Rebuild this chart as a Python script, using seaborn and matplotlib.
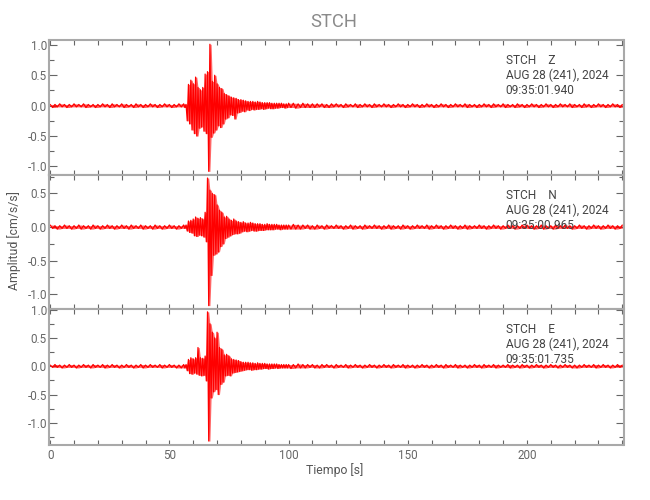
import numpy as np
import pandas as pd
import matplotlib
matplotlib.use("Agg")
import matplotlib.pyplot as plt
import seaborn as sns
from matplotlib import font_manager as fm
from matplotlib.ticker import MultipleLocator, FormatStrFormatter

# ---------------- data ----------------
station = "STCH"
components = ["Z", "N", "E"]
date_label = "AUG 28 (241), 2024"
start_times = ["09:35:01.940", "09:35:00.965", "09:35:01.735"]
x_label = "Tiempo [s]"
y_label = "Amplitud [cm/s/s]"
x_ticks = [0, 50, 100, 150, 200]

# sampling of the traced peaks (s)
pre_t = np.arange(0, 56, 1.0)       # quiet, before the event
event_t = np.arange(56, 100, 0.5)   # event window
post_t = np.arange(100, 241, 1.0)   # quiet coda / noise

# signed peak amplitudes, in hundredths of cm/s/s
z_pre = [2,-3,2,-2,3,-2,2,-3,2,-2, 3,-2,2,-2,3,-3,2,-2,2,-3, 2,-2,3,-2,2,-3,3,-2,2,-2,
         3,-3,2,-2,2,-3,3,-2,2,-3, 2,-2,3,-2,2,-3,2,-2,3,-2, 2,-3,2,-2,3,-2]
z_event = [3,-3,2,-25,
           35,-30,42,-40,36,-46,47,-50,
           30,-37,26,-35,30,-42,52,-46,
           56,-108,101,-52,40,-45,50,-40,
           36,-33,30,-36,28,-30,20,-22,
           18,-20,16,-15,14,-16,13,-22,
           12,-12,10,-11,10,-9,9,-10,
           8,-7,7,-8,7,-6,7,-7,
           6,-6,7,-6,6,-5,5,-6,
           5,-5,5,-4,5,-5,4,-5,
           4,-4,4,-4,4,-3,4,-3,
           3,-4,3,-3]
z_post = [4,-3,4,-4,3,-3,4,-3,3,-3, 3,-3,3,-2,3,-3,2,-3,3,-2, 3,-2,2,-3,3,-2,2,-2,3,-3,
          2,-2,3,-2,2,-3,3,-2,2,-2, 3,-2,2,-3,2,-2,3,-2,2,-3, 2,-2,3,-2,2,-3,2,-2,3,-2,
          2,-3,2,-2,3,-2,2,-3,2,-2, 3,-2,2,-2,3,-3,2,-2,2,-3, 2,-2,3,-2,2,-3,3,-2,2,-2,
          3,-3,2,-2,2,-3,3,-2,2,-3, 2,-2,3,-2,2,-3,2,-2,3,-2, 2,-3,2,-2,3,-2,2,-2,3,-3,
          2,-2,2,-3,3,-2,2,-3,2,-2, 3,-2,2,-3,2,-2,3,-2,2,-3, 2]

n_pre = [3,-2,2,-3,2,-2,3,-2,2,-3, 2,-2,3,-3,2,-2,2,-3,3,-2, 2,-3,2,-2,3,-2,2,-3,2,-2,
         3,-2,2,-3,3,-2,2,-2,3,-3, 2,-2,2,-3,3,-2,2,-3,2,-2, 3,-2,2,-3,2,-2]
n_event = [3,-2,3,-6,
           9,-8,10,-9,12,-13,15,-14,
           13,-12,14,-13,12,-15,22,-22,
           73,-117,55,-72,50,-42,48,-40,
           33,-37,25,-29,22,-25,15,-17,
           16,-15,12,-13,10,-11,12,-10,
           9,-10,8,-9,7,-7,8,-6,
           6,-7,6,-6,7,-5,6,-6,
           5,-6,5,-5,5,-5,4,-5,
           4,-4,5,-4,4,-4,4,-4,
           4,-3,4,-3,3,-4,3,-3,
           3,-3,3,-3]
n_post = [3,-3,4,-3,3,-3,3,-2,3,-3, 2,-3,3,-2,2,-3,3,-2,2,-2, 3,-2,2,-3,2,-2,3,-3,2,-2,
          2,-3,3,-2,2,-2,3,-2,2,-3, 2,-2,3,-3,2,-2,2,-3,3,-2, 2,-3,2,-2,3,-2,2,-2,3,-3,
          2,-2,3,-2,2,-3,2,-2,3,-2, 2,-3,2,-2,3,-3,2,-2,2,-2, 3,-2,2,-3,2,-2,3,-2,2,-3,
          2,-2,3,-2,2,-3,2,-2,3,-2, 3,-2,2,-3,2,-2,3,-3,2,-2, 2,-3,3,-2,2,-2,3,-2,2,-3,
          2,-2,3,-2,2,-3,2,-2,3,-2, 2,-3,2,-2,3,-2,2,-3,2,-2, 3]

e_pre = [2,-2,3,-2,2,-3,2,-2,3,-2, 2,-3,2,-2,3,-2,2,-3,3,-2, 2,-2,3,-3,2,-2,3,-2,2,-3,
         2,-2,3,-2,2,-3,2,-2,3,-3, 2,-2,3,-2,2,-2,3,-3,2,-2, 3,-2,2,-3,2,-3]
e_event = [3,-3,3,-8,
           12,-13,15,-14,13,-12,15,-14,
           33,-16,15,-17,14,-16,18,-26,
           96,-132,75,-56,60,-45,50,-41,
           60,-50,33,-32,30,-28,20,-17,
           21,-16,18,-17,13,-12,12,-11,
           11,-10,10,-9,8,-8,7,-7,
           7,-6,7,-6,6,-7,6,-6,
           5,-6,6,-5,5,-5,5,-4,
           5,-4,4,-5,4,-4,4,-4,
           4,-3,4,-4,3,-3,3,-3,
           3,-3,3,-3]
e_post = [3,-4,3,-3,4,-3,3,-3,3,-2, 3,-3,2,-3,3,-2,3,-2,2,-3, 3,-2,2,-2,3,-3,2,-2,3,-2,
          2,-3,2,-2,3,-2,2,-3,2,-2, 3,-2,2,-3,3,-2,2,-2,3,-3, 2,-2,2,-3,2,-2,3,-2,2,-3,
          2,-2,3,-2,2,-3,3,-2,2,-2, 3,-3,2,-2,2,-3,2,-2,3,-2, 2,-3,3,-2,2,-2,3,-3,2,-2,
          2,-2,3,-3,2,-2,2,-3,3,-2, 2,-3,2,-2,3,-2,2,-3,2,-2, 3,-2,2,-3,2,-2,3,-2,2,-3,
          2,-3,2,-2,3,-2,2,-2,3,-3, 2,-2,3,-2,2,-3,2,-2,3,-2, 2]

traces = {"Z": (z_pre, z_event, z_post),
          "N": (n_pre, n_event, n_post),
          "E": (e_pre, e_event, e_post)}
y_limits = {"Z": (-1.14, 1.08), "N": (-1.22, 0.775), "E": (-1.39, 1.01)}

# ---------------- style ----------------
sns.set_style("white")

# pick a narrow face if one is installed
names = {f.name for f in fm.fontManager.ttflist}
if "Liberation Sans Narrow" in names:
    FAMILY, SCALE = ["Liberation Sans Narrow", "DejaVu Sans"], 1.0
else:
    FAMILY, SCALE = ["Roboto", "DejaVu Sans"], 0.88
plt.rcParams["font.family"] = FAMILY
plt.rcParams["axes.unicode_minus"] = True

RED = "#ff0000"
SPINE = "#a9a9a9"
TICK = "#666666"
TXT = "#444444"

fig = plt.figure(figsize=(6.5, 5), dpi=100)
left, width = 49 / 650, (623.5 - 49) / 650
rects = [(left, 1 - 175 / 500, width, 135 / 500),
         (left, 1 - 309 / 500, width, 134 / 500),
         (left, 1 - 445 / 500, width, 136 / 500)]

t_all = np.concatenate([pre_t, event_t, post_t])

for i, (comp, rect, t0) in enumerate(zip(components, rects, start_times)):
    ax = fig.add_axes(rect)
    pre, ev, post = traces[comp]
    amp = np.concatenate([pre, ev, post]) / 100.0
    df = pd.DataFrame({"t": t_all, "amp": amp})
    # range covered by each wiggle, so the dense oscillation reads as a band
    roll = df["amp"].rolling(2, min_periods=1)
    ax.fill_between(df["t"], roll.min(), roll.max(), color=RED, alpha=0.6,
                    linewidth=0)
    sns.lineplot(data=df, x="t", y="amp", ax=ax, color=RED,
                 linewidth=0.9, estimator=None, sort=False)
    ax.set_xlim(-0.5, 240.5)
    ax.set_ylim(*y_limits[comp])
    ax.set_xlabel("")
    ax.set_ylabel("")

    for s in ax.spines.values():
        s.set_visible(True)
        s.set_color(SPINE)
        s.set_linewidth(1.5)

    ax.xaxis.set_major_locator(MultipleLocator(50))
    ax.xaxis.set_minor_locator(MultipleLocator(10))
    ax.yaxis.set_major_locator(MultipleLocator(0.5))
    ax.yaxis.set_minor_locator(MultipleLocator(0.25))
    ax.yaxis.set_major_formatter(FormatStrFormatter("%.1f"))

    ax.tick_params(axis="both", which="both", direction="in", top=True,
                   right=True, bottom=True, left=True, colors=TICK,
                   width=0.8)
    ax.tick_params(axis="x", which="both", length=3.8)
    ax.tick_params(axis="y", which="major", length=6)
    ax.tick_params(axis="y", which="minor", length=3.5)
    ax.tick_params(axis="y", which="major", labelsize=9.5 * SCALE, pad=1.5,
                   labelcolor=TICK)
    if i < 2:
        ax.tick_params(axis="x", labelbottom=False)
    else:
        ax.set_xticks(x_ticks)
        ax.tick_params(axis="x", which="major", labelsize=9.5 * SCALE, pad=3,
                       labelcolor=TICK)

    lines = [f"{station}    {comp}", date_label, t0]
    for k, txt in enumerate(lines):
        ax.annotate(txt, xy=(0.795, 1.0), xycoords="axes fraction",
                    xytext=(0, -15.1 - 10.5 * k), textcoords="offset points",
                    ha="left", va="center", fontsize=10.8 * SCALE * 0.9,
                    color=TXT)

fig.text(334 / 650, 1 - 22 / 500, station, ha="center", va="center",
         fontsize=15 * SCALE, color="#8a8a8a")
fig.text(335 / 650, 1 - 470 / 500, x_label, ha="center", va="center",
         fontsize=10 * SCALE, color="#555555")
fig.text(14 / 650, 1 - 241 / 500, y_label, ha="center", va="center",
         rotation=90, fontsize=10 * SCALE, color="#555555")

fig.savefig("out.png", dpi=100)
